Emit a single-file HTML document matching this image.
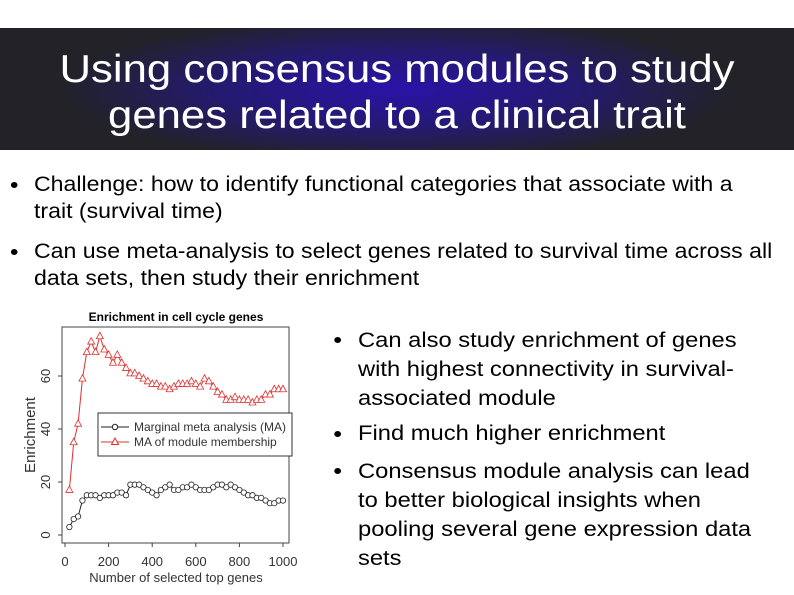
<!DOCTYPE html>
<html><head><meta charset="utf-8"><style>
body{margin:0;width:794px;height:595px;overflow:hidden;background:#fff;font-family:"Liberation Sans",sans-serif;position:relative}
#hdr{position:absolute;left:0;top:28px;width:794px;height:122px;background:radial-gradient(ellipse 50% 70% at 50% 50%,#2a12a8 0%,#241a70 45%,#222228 85%);}
#hdr div{color:#fff;font-size:39px;text-align:center;line-height:46px;padding-top:19px;transform:scaleX(1.12)}
.b{position:absolute;font-size:21px;line-height:27px;color:#000;transform:scaleX(1.1);transform-origin:0 0}
.r{transform:scaleX(1.13)}
.b:before{content:"";position:absolute;left:-21px;top:11px;width:6px;height:6px;border-radius:50%;background:#000}
</style></head><body>
<div id="hdr"><div>Using consensus modules to study<br>genes related to a clinical trait</div></div>
<div class="b" style="left:34px;top:171px;width:665px">Challenge: how to identify functional categories that associate with a trait (survival time)</div>
<div class="b" style="left:34px;top:238px;width:680px">Can use meta-analysis to select genes related to survival time across all data sets, then study their enrichment</div>
<div class="b r" style="left:358px;top:326px;width:350px;line-height:29px">Can also study enrichment of genes with highest connectivity in survival-associated module</div>
<div class="b r" style="left:358px;top:420px;width:350px">Find much higher enrichment</div>
<div class="b r" style="left:358px;top:457px;width:350px;line-height:29px">Consensus module analysis can lead to better biological insights when pooling several gene expression data sets</div>
<svg id="chart" width="794" height="595" style="position:absolute;left:0;top:0"></svg>
<script>
const xs=[20,40,60,80,100,120,140,160,180,200,220,240,260,280,300,320,340,360,380,400,420,440,460,480,500,520,540,560,580,600,620,640,660,680,700,720,740,760,780,800,820,840,860,880,900,920,940,960,980,1000];
const redVals=[17,35,42,59,69,73,69,75,70,68,65,68,65,63,61,61,60,59,58,57,57,56,56,55,56,57,57,57,58,57,56,59,58,56,54,53,51,51,52,51,51,51,50,51,51,53,53,55,55,55];
const blackVals=[3,6,7,13,15,15,15,14,15,15,15,16,16,15,19,19,19,18,17,16,15,17,18,19,17,17,18,18,19,18,17,17,17,18,19,19,18,19,18,17,16,15,15,14,14,13,12,12,13,13];
const xTicks=[0,200,400,600,800,1000];
const yTicks=[0,20,40,60];
const X=v=>65+v*0.218, Y=v=>535-v*2.65;
const s=document.getElementById('chart'),NS='http://www.w3.org/2000/svg';
function mk(t,a,p){const e=document.createElementNS(NS,t);for(const k in a)e.setAttribute(k,a[k]);(p||s).appendChild(e);return e;}
let e=mk('rect',{x:62,y:327,width:227,height:216,fill:'none',stroke:'#444','stroke-width':1});


e=mk('text',{x:176,y:321,'font-size':12,'font-weight':'bold','text-anchor':'middle','font-family':'Liberation Sans'});e.textContent='Enrichment in cell cycle genes';


xTicks.forEach(v=>{mk('line',{x1:X(v),x2:X(v),y1:543,y2:547,stroke:'#444'});e=mk('text',{x:X(v),y:566,'font-size':13,'text-anchor':'middle',fill:'#333','font-family':'Liberation Sans'});e.textContent=v;

});
yTicks.forEach(v=>{mk('line',{x1:58,x2:62,y1:Y(v),y2:Y(v),stroke:'#444'});e=mk('text',{x:50,y:Y(v),'font-size':13,'text-anchor':'middle',fill:'#333',transform:`rotate(-90 50 ${Y(v)})`,'font-family':'Liberation Sans'});e.textContent=v;

});
e=mk('text',{x:176,y:582,'font-size':13,'text-anchor':'middle',fill:'#333','font-family':'Liberation Sans'});e.textContent='Number of selected top genes';


e=mk('text',{x:35,y:435,'font-size':15,'text-anchor':'middle',fill:'#333',transform:'rotate(-90 35 435)','font-family':'Liberation Sans'});e.textContent='Enrichment';


function series(vals,col,tri,name){
 e=mk('polyline',{points:xs.map((x,i)=>X(x)+','+Y(vals[i])).join(' '),fill:'none',stroke:col,'stroke-width':1});
 
 
 xs.forEach((x,i)=>{const cx=X(x),cy=Y(vals[i]);
  if(tri)e=mk('polygon',{points:`${cx},${cy-4} ${cx-3.5},${cy+2.5} ${cx+3.5},${cy+2.5}`,fill:'#fff',stroke:col,'stroke-width':0.8});
  else e=mk('circle',{cx,cy,r:2.7,fill:'#fff',stroke:col,'stroke-width':0.8});
  
  });
}
series(blackVals,'#222',false,'marginal-ma');
series(redVals,'#e03030',true,'module-membership');
e=mk('rect',{x:98,y:413,width:194,height:43,fill:'#fff',stroke:'#333'});


mk('line',{x1:101,x2:129,y1:427,y2:427,stroke:'#222'});mk('circle',{cx:115,cy:427,r:2.7,fill:'#fff',stroke:'#222'});
mk('line',{x1:101,x2:129,y1:442,y2:442,stroke:'#e03030'});mk('polygon',{points:'115,438 111.5,444.5 118.5,444.5',fill:'#fff',stroke:'#e03030'});
e=mk('text',{x:134,y:431,'font-size':12,fill:'#333','font-family':'Liberation Sans'});e.textContent='Marginal meta analysis (MA)';


e=mk('text',{x:134,y:446,'font-size':12,fill:'#333','font-family':'Liberation Sans'});e.textContent='MA of module membership';


</script>
</body></html>
